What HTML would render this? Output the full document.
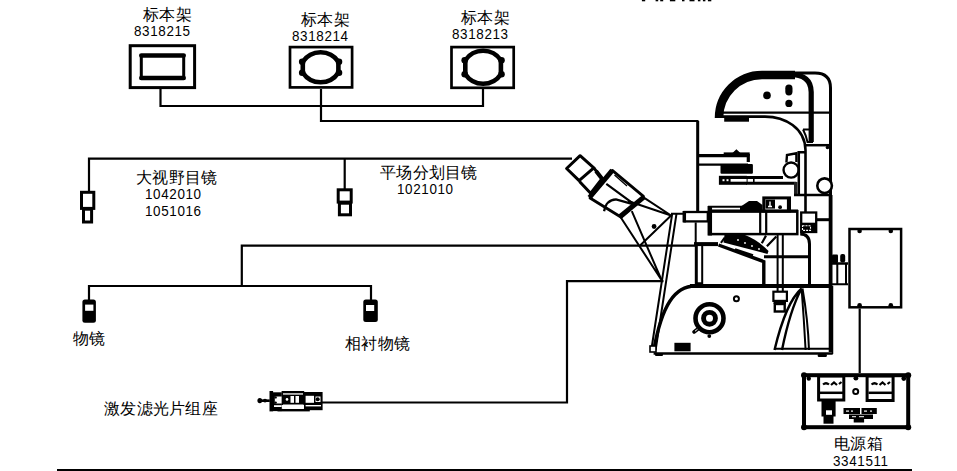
<!DOCTYPE html>
<html><head><meta charset="utf-8">
<style>
html,body{margin:0;padding:0;background:#fff;width:957px;height:471px;overflow:hidden;position:relative}
svg{position:absolute;left:0;top:0}
.t{position:absolute;font-family:"Liberation Sans",sans-serif;color:#000;white-space:nowrap;line-height:1;margin:0}
.c{font-size:16px;letter-spacing:0.3px}
.n{font-size:15.2px;letter-spacing:0.7px;transform:scaleX(0.885);transform-origin:0 0}
</style></head><body>
<svg width="957" height="471" viewBox="0 0 957 471" fill="none" stroke="#000" stroke-width="2.2">
<!-- clipped text at top -->
<g fill="#000" stroke="none"><rect x="641.9" y="0" width="3.3" height="1.3"/><rect x="655.6" y="0" width="2.6" height="1.3"/><rect x="660.2" y="0" width="3.0" height="1.3"/><rect x="669.9" y="0" width="5.4" height="1.3"/><rect x="682.0" y="0" width="2.5" height="1.3"/><rect x="689.5" y="0" width="5.0" height="1.3"/><rect x="697.9" y="0" width="2.5" height="1.3"/><rect x="702.9" y="0" width="2.5" height="1.3"/><rect x="707.9" y="0" width="3.4" height="1.3"/></g>
<!-- specimen holder boxes -->
<rect x="130.2" y="45.7" width="64.4" height="41.9" stroke-width="3"/>
<rect x="141.3" y="55.5" width="42.4" height="22.4" stroke-width="3"/>
<path d="M141.3,55.5H183.7M141.3,77.9H183.7" stroke-width="4.5" stroke-linecap="round"/>
<rect x="290" y="47.1" width="62.1" height="40.3" stroke-width="2.7"/>
<path d="M302.8,61.7A21.4,21.4 0 0 1 338.4,61.7V72.7A21.4,21.4 0 0 1 302.8,72.7Z" stroke-width="4.6"/>
<g fill="#000" stroke="none"><circle cx="302.2" cy="61.7" r="3.3"/><circle cx="302.2" cy="72.7" r="3.3"/><circle cx="339" cy="61.7" r="3.3"/><circle cx="339" cy="72.7" r="3.3"/></g>
<rect x="451.5" y="47.1" width="62.2" height="40.7" stroke-width="2.7"/>
<path d="M465.3,60.3A21.4,21.4 0 0 1 500.9,60.3V74.3A21.4,21.4 0 0 1 465.3,74.3Z" stroke-width="4.6"/>
<g fill="#000" stroke="none"><circle cx="464.7" cy="60.3" r="3.3"/><circle cx="464.7" cy="74.3" r="3.3"/><circle cx="501.5" cy="60.3" r="3.3"/><circle cx="501.5" cy="74.3" r="3.3"/></g>
<!-- connector lines -->
<path d="M160.5,89V106H483V89"/>
<path d="M321,89V121H697.4V212"/>
<path d="M89,191V158.6H572"/>
<path d="M344.7,158.6V189"/>
<!-- eyepieces -->
<rect x="81.5" y="192.3" width="12.3" height="16.1" stroke-width="3"/>
<rect x="83.5" y="209.2" width="8.1" height="12.8" stroke-width="3"/>
<rect x="338.2" y="189.8" width="13" height="12.3" stroke-width="3"/>
<rect x="339.4" y="203.2" width="11.1" height="11.6" stroke-width="3"/>
<!-- objectives lines -->
<path d="M89,300V286H371V300"/>
<path d="M241.8,286V245.6H696"/>
<g fill="#000" stroke="none">
<rect x="82.4" y="299.5" width="13.5" height="23.2" rx="2.5"/>
<rect x="363.3" y="299.6" width="14.5" height="22.3" rx="2.5"/>
</g>
<g fill="#fff" stroke="none">
<rect x="85.1" y="304.6" width="8.3" height="6.2"/>
<rect x="366" y="305" width="8.2" height="6"/>
</g>
<!-- laser filter line -->
<g id="filter" stroke="none">
<g fill="#000">
<ellipse cx="259.8" cy="400.6" rx="2.4" ry="2.7"/>
<rect x="259.8" y="399.4" width="10" height="2.6"/>
<ellipse cx="265" cy="400.6" rx="2" ry="1.9"/>
<rect x="269.5" y="391" width="3.6" height="20.4"/>
<rect x="273" y="392.3" width="8.8" height="18.8"/>
<rect x="281.6" y="391" width="22.6" height="14"/>
<rect x="277.5" y="408.9" width="32.3" height="2.5"/>
<rect x="304" y="392" width="18.6" height="18.2"/>
</g>
<g fill="#fff">
<rect x="274.8" y="396.5" width="6.8" height="7"/>
<rect x="274" y="405.2" width="7.6" height="1.8"/>
<rect x="283" y="393.3" width="20" height="1.3"/>
<rect x="290.5" y="396" width="3.5" height="6.8"/>
<rect x="295.5" y="396" width="3.5" height="6.8"/>
<circle cx="287" cy="399.4" r="1.3"/>
<rect x="283" y="404.5" width="20.5" height="4.4"/>
<rect x="305.6" y="395.8" width="8.4" height="7"/>
<rect x="315.5" y="396.5" width="5" height="5.5"/>
<rect x="305.6" y="405" width="15.4" height="1.4"/>
</g>
<g fill="#000">
<circle cx="275.6" cy="397.4" r="1.2"/><circle cx="275.6" cy="402.6" r="1.2"/>
<circle cx="317.7" cy="399.3" r="2"/>
</g>
</g>

<path d="M322,402.5H567V281.2H663.5"/>
<!-- power line -->
<path d="M859.7,308.5V373"/>
<!-- bottom line -->
<rect x="57" y="469" width="855" height="2" fill="#000" stroke="none"/>

<g id="scope">
<!-- illuminator -->
<path d="M719,118A43,43 0 0 1 762,75H795" stroke-width="8.5"/>
<path d="M790,74.5Q811,74.5 811.2,92V142" stroke-width="5.2"/>
<path d="M762,73H815Q830.5,73 830.5,88V352" stroke-width="3"/>
<path d="M722,112.7H830" stroke-width="2.2"/>
<path d="M830.6,195V352" stroke-width="3.8"/>
<path d="M722,116.6H765C785,116.6 805,128 805.5,150V212" stroke-width="2.6"/>
<rect x="724.2" y="117.8" width="24.8" height="3.9" fill="#000" stroke="none"/>
<circle cx="767" cy="95.4" r="3.8" fill="#000" stroke="none"/>
<rect x="785.3" y="84.6" width="7.2" height="10.8" rx="3.6" fill="#000" stroke="none"/>
<circle cx="788.9" cy="103.4" r="3.6" fill="#000" stroke="none"/>
<path d="M803,129.5H810M803,129.5Q806,135 807.5,142H813" stroke-width="2"/>
<path d="M805.5,145.2H829" stroke-width="2.5"/>
<circle cx="827.5" cy="147.5" r="1.8" fill="#000" stroke="none"/>
<!-- condenser arm / stage -->
<path d="M697.9,121V211.6" stroke-width="2.6"/>
<path d="M697.9,155.6H748.3V162" stroke-width="3.2"/>
<rect x="723.7" y="152.4" width="26" height="3.5" fill="#000" stroke="none"/>
<path d="M733.5,153L736.4,150.3L739.3,153Z" fill="#000" stroke="#000" stroke-width="1.5"/>
<path d="M697.9,164.6H748" stroke-width="2.4"/>
<rect x="720.5" y="164.1" width="32.4" height="9.6" rx="1" fill="#000" stroke="none"/>
<rect x="718.9" y="175.8" width="28" height="9" fill="#000" stroke="none"/>
<path d="M746,177.4H783M746,183.3H796.4" stroke-width="3"/>
<path d="M746.8,177V184M753.8,177V184" stroke-width="1.6"/>
<g fill="#fff" stroke="none">
<rect x="730.6" y="179" width="16" height="2.7"/>
<rect x="722.5" y="179.2" width="2" height="2"/><rect x="726.5" y="179.2" width="2" height="2"/>
</g>
<path d="M786.4,162.5L787,155L796.4,153.2V162" stroke-width="2.4"/>
<circle cx="791.1" cy="170.1" r="7.55" fill="#fff" stroke-width="2.4"/>
<path d="M798.8,152.5V195M797.5,152.2H805" stroke-width="2.5"/>
<rect x="794" y="182" width="3.5" height="12" fill="#222" stroke="none"/>
<path d="M794,195H830" stroke-width="2.6"/>
<circle cx="824.6" cy="185.7" r="7.3" fill="#fff" stroke-width="2.6"/>
<!-- eyepiece tube -->
<path d="M580.1,155.7L566.6,168.5L579.1,180.6L593.8,167.8Z" stroke-width="3" stroke-linejoin="round"/>
<path d="M579.5,181.5L590.6,193.3L602,178.7L593.8,167.8" stroke-width="3" stroke-linejoin="round"/>
<path d="M596,171L603,180" stroke-width="4"/>
<path d="M612.3,170.4L643.5,196.4L621.2,217.2L590,198Z" stroke-width="2.8" stroke-linejoin="round"/>
<path d="M589.5,197.5L612.3,170.4" stroke-width="5"/>
<path d="M620.2,216.5L643.5,197.4" stroke-width="5"/>
<path d="M606.3,183.8L634.6,204.6M604.1,211.3Q606,200 616,199.4L634.6,204.6" stroke-width="2.2"/>
<path d="M614.5,175L627,186" stroke-width="1.3"/>
<path d="M643.5,197.4L671.1,215.5M628,201L671.1,215.5M671.1,215.5L640.3,245.2" stroke-width="2"/>
<path d="M620.5,217L661.5,280M631.8,211.2L661.5,280" stroke-width="2"/>
<circle cx="654.1" cy="226.5" r="2.4" fill="#000" stroke="none"/>
<path d="M672.1,214.4L651.3,350M676.4,214.4L655.6,350M671,213.8H684.5" stroke-width="2"/>
<!-- nosepiece / filter housing -->
<rect x="684.5" y="212" width="23.3" height="9.4" fill="#fff" stroke-width="2.3"/>
<path d="M684.3,211V222.4" stroke-width="3.5"/>
<path d="M695.7,222.4V244" stroke-width="2"/>
<path d="M696.3,244V284" stroke-width="3"/><path d="M702.2,246V284M696,283.2H703" stroke-width="2"/>
<path d="M694,244.1H718" stroke-width="4"/>
<path d="M708,206.8H750" stroke-width="2"/>
<path d="M740,207L749,201H757L762.5,205V212H740Z" fill="#000" stroke="none"/>
<rect x="709.5" y="211.2" width="87.8" height="22.9" stroke-width="2.5"/>
<path d="M708,211.2H798" stroke-width="3.2"/>
<path d="M709.8,206V235.5" stroke-width="4.5"/>
<path d="M760.2,211V234M766.2,211V234" stroke-width="2.2"/>
<rect x="763.8" y="197.9" width="25.7" height="13" fill="#fff" stroke-width="3"/>
<rect x="765.5" y="199.6" width="9.5" height="9" fill="#000" stroke="none"/>
<path d="M770,201.5V206M768,206.5H772" stroke="#fff" stroke-width="1.4"/>
<path d="M787.5,199V210" stroke-width="1.2"/>
<circle cx="780.1" cy="207.2" r="1.9" fill="#000" stroke="none"/>
<rect x="801.2" y="212.5" width="15" height="19.5" stroke-width="2.3"/>
<rect x="801.2" y="222.7" width="15" height="10.2" fill="#000" stroke="none"/>
<rect x="802.5" y="225.8" width="8" height="4.6" fill="none" stroke="#fff" stroke-width="1.1" stroke-dasharray="2,1"/>
<path d="M816,219.7H830" stroke-width="3"/>
<path d="M800.2,234Q809.5,234 809.5,244V285" stroke-width="3"/>
<path d="M764,256.8H809.5" stroke-width="3"/>
<path d="M777.6,235V291M782.8,235V291" stroke-width="2"/>
<!-- slider -->
<path d="M724.5,235L745,235Q758,240 768.5,251L767.5,254L723.5,242.5Z" fill="#000" stroke="none"/>
<g fill="#fff" stroke="none"><circle cx="738" cy="240" r="0.9"/><circle cx="745" cy="243" r="0.9"/><circle cx="752" cy="246" r="0.9"/><circle cx="759" cy="249" r="0.9"/></g>
<path d="M718.5,245L763.8,261.6V284" stroke-width="3.4"/>
<path d="M735,249.5L753,255.5" stroke-width="2.5"/>
<path d="M724.7,237.7L720.9,242.8" stroke-width="2"/>
<path d="M761.8,243.3L766,235.6M766.9,246.3L776.3,236.5" stroke-width="2.2"/>
<!-- base -->
<path d="M690,286H831.8" stroke-width="4"/>
<path d="M695,286C675,286 662,305 654,349" stroke-width="3.4"/>
<path d="M653.6,353.5H832.7" stroke-width="2.5"/>
<path d="M774,348.8H832.7" stroke-width="2"/>
<rect x="817.7" y="354" width="9.2" height="3" rx="1.2" fill="#000" stroke="none"/>
<rect x="655" y="353" width="8" height="3" rx="1" fill="#000" stroke="none"/>
<rect x="650" y="346" width="6" height="6" fill="#fff" stroke-width="1.6"/>
<path d="M832.5,286V354" stroke-width="1.5"/>
<circle cx="709.5" cy="318.3" r="14" stroke-width="4.6"/>
<circle cx="709.5" cy="318.3" r="5.95" stroke-width="4.9"/>
<path d="M694,332L698.5,328.5" stroke-width="3.6" stroke-linecap="round"/>
<path d="M695,331.2L697.5,329.3" stroke="#fff" stroke-width="1"/>
<circle cx="709.3" cy="336.1" r="1.9" fill="#000" stroke="none"/>
<circle cx="736.4" cy="298.7" r="2.5" stroke-width="2"/>
<rect x="674.4" y="342.8" width="16.2" height="8.5" fill="#000" stroke="none"/>
<rect x="773.6" y="300" width="12.4" height="4" fill="#000" stroke="none"/>
<rect x="773.4" y="291.7" width="13.5" height="9.2" fill="#fff" stroke-width="2.2"/>
<rect x="774.8" y="304" width="9.9" height="7.5" fill="#fff" stroke-width="2.4"/>
<path d="M801.6,288.5Q786,302 774.5,350M801.6,288.5Q790,310 782,350" stroke-width="2.4"/>
<path d="M801.6,288.5Q804,320 805.6,350M802.5,288.5Q808,320 809,350" stroke-width="2"/>
<!-- connector to power box -->
<path d="M832,263.5H848" stroke-width="2.5"/>
<path d="M837.3,263V284M846,263V284M832,284.2H848" stroke-width="2"/>
<rect x="832" y="254.6" width="6" height="8.5" rx="1" fill="#000" stroke="none"/>
<rect x="840.2" y="254" width="5" height="8.5" rx="2" fill="#000" stroke="none"/>
</g>

<!-- power box upper -->
<rect x="849.5" y="229" width="51.6" height="78.3" stroke-width="2.5"/>
<g fill="#000" stroke="none">
<circle cx="859.6" cy="231" r="2.3"/><circle cx="890.8" cy="231" r="2.3"/>
<circle cx="859.6" cy="305.2" r="2.3"/><circle cx="890.8" cy="305.2" r="2.3"/>
</g>
<!-- power box lower -->
<rect x="804" y="375.2" width="104.2" height="52" stroke-width="4"/>
<g fill="#000" stroke="none">
<circle cx="804" cy="375.2" r="3"/><circle cx="908.2" cy="375.2" r="3"/>
<circle cx="804" cy="427.2" r="3"/><circle cx="908.2" cy="427.2" r="3"/>
</g>
<rect x="818.6" y="376" width="25.2" height="24" stroke-width="3"/>
<path d="M820,392.8H843" stroke-width="2.5"/>
<rect x="867.1" y="376" width="26" height="24.5" stroke-width="3"/>
<path d="M868.5,392.8H893" stroke-width="2.5"/>
<rect x="821.5" y="401" width="14.1" height="15.5" fill="#000" stroke="none"/>
<rect x="823.5" y="415" width="10" height="8.7" fill="#000" stroke="none"/>
<path d="M823,384.5Q826,382 829,384.5M831,385L834,382.5L837,385M839,384L841.5,382" stroke-width="2.2"/>
<path d="M871.5,384.5Q874.5,382 877.5,384.5M879.5,385L882.5,382.5L885.5,385M887.5,384L890,382" stroke-width="2.2"/>
<rect x="826" y="410.3" width="6" height="4.5" fill="#fff" stroke="none"/>
<circle cx="855.7" cy="391.4" r="2.5" stroke-width="2"/>
<g fill="#000" stroke="none">
<rect x="843.5" y="408" width="16.5" height="6"/><rect x="861.5" y="408" width="15.3" height="6"/>
<rect x="849" y="414.5" width="24" height="4.5"/><rect x="853.7" y="419" width="10.4" height="3.5"/>
<circle cx="855.9" cy="378.2" r="2.4"/><circle cx="903.8" cy="378.5" r="2.4"/><circle cx="808.8" cy="378.5" r="2.2"/>
</g>
<g fill="#fff" stroke="none">
<rect x="846" y="410.5" width="3" height="1.2"/><rect x="851" y="410.5" width="2" height="1.2"/><rect x="864" y="410.5" width="3" height="1.2"/><rect x="870" y="410.5" width="2" height="1.2"/>
<rect x="852" y="416.2" width="4" height="1"/><rect x="859" y="416.2" width="5" height="1"/>
</g>
</svg>
<div class="t c" style="left:143px;top:7.3px">标本架</div>
<div class="t n" style="left:134px;top:22.7px">8318215</div>
<div class="t c" style="left:301px;top:12.3px">标本架</div>
<div class="t n" style="left:292px;top:27.7px">8318214</div>
<div class="t c" style="left:461px;top:10.3px">标本架</div>
<div class="t n" style="left:452px;top:25.7px">8318213</div>
<div class="t c" style="left:136px;top:170.3px">大视野目镜</div>
<div class="t n" style="left:145px;top:185.7px">1042010</div>
<div class="t n" style="left:145px;top:202.7px">1051016</div>
<div class="t c" style="left:380px;top:165.3px">平场分划目镜</div>
<div class="t n" style="left:397px;top:180.7px">1021010</div>
<div class="t c" style="left:73px;top:331.3px">物镜</div>
<div class="t c" style="left:345px;top:336.3px">相衬物镜</div>
<div class="t c" style="left:104px;top:401.3px">激发滤光片组座</div>
<div class="t c" style="left:834px;top:436.3px">电源箱</div>
<div class="t n" style="left:833px;top:452.7px">3341511</div>
</body></html>
